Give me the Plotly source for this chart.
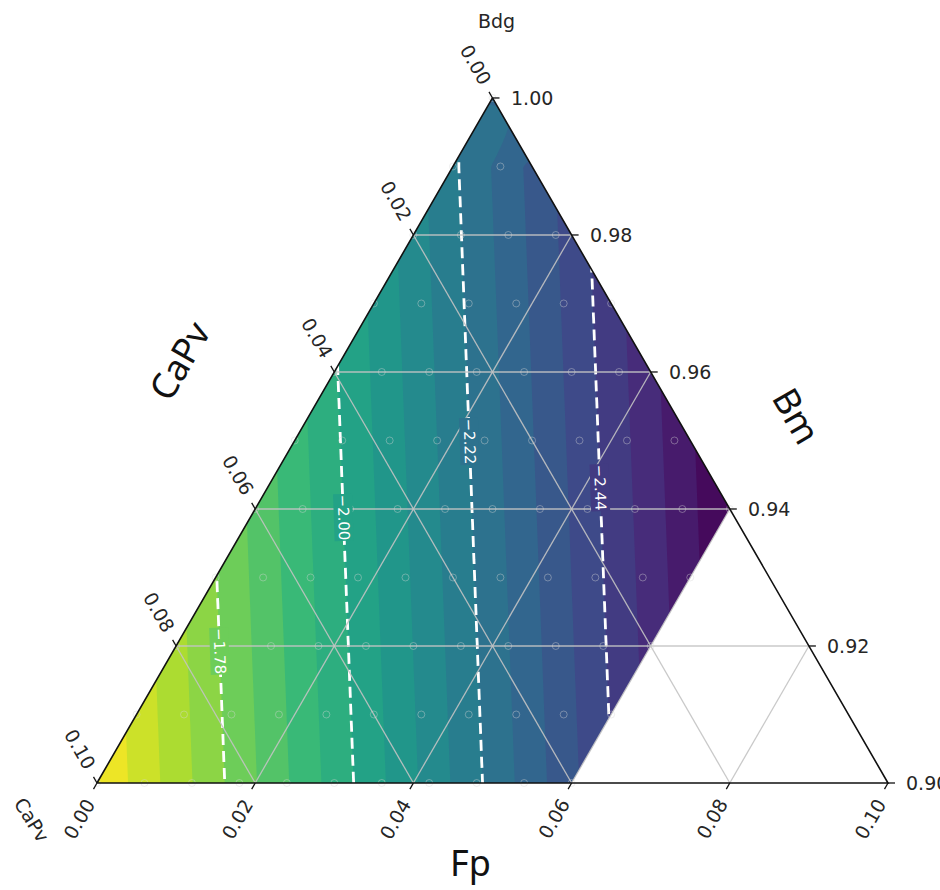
import numpy as np
import plotly.graph_objects as go
from plotly.colors import sample_colorscale

# ---------------- data ----------------
# sampled composition lattice: Fp steps along each Bm row (CaPv = 1 - Bm - Fp)
fp_levels = [0.000, 0.006, 0.012, 0.018, 0.024, 0.030, 0.036, 0.042, 0.048, 0.054, 0.060]
bm_levels = [0.90, 0.91, 0.92, 0.93, 0.94, 0.95, 0.96, 0.97, 0.98, 0.99, 1.00]

vals_bm090 = [-1.562, -1.643, -1.724, -1.805, -1.886, -1.967, -2.048, -2.129, -2.210, -2.291, -2.372]
vals_bm091 = [-1.634, -1.715, -1.796, -1.877, -1.958, -2.039, -2.120, -2.201, -2.282, -2.363, -2.444]
vals_bm092 = [-1.706, -1.787, -1.868, -1.949, -2.030, -2.111, -2.192, -2.273, -2.354, -2.435, -2.516]
vals_bm093 = [-1.778, -1.859, -1.940, -2.021, -2.102, -2.183, -2.264, -2.345, -2.426, -2.507, -2.588]
vals_bm094 = [-1.850, -1.931, -2.012, -2.093, -2.174, -2.255, -2.336, -2.417, -2.498, -2.579, -2.660]
vals_bm095 = [-1.922, -2.003, -2.084, -2.165, -2.246, -2.327, -2.408, -2.489, -2.570]
vals_bm096 = [-1.994, -2.075, -2.156, -2.237, -2.318, -2.399, -2.480]
vals_bm097 = [-2.066, -2.147, -2.228, -2.309, -2.390, -2.471]
vals_bm098 = [-2.138, -2.219, -2.300, -2.381]
vals_bm099 = [-2.210, -2.291]
vals_bm100 = [-2.282]
row_values = [vals_bm090, vals_bm091, vals_bm092, vals_bm093, vals_bm094, vals_bm095,
              vals_bm096, vals_bm097, vals_bm098, vals_bm099, vals_bm100]

fill_level_min = -2.66
fill_level_max = -1.56
n_fill_bands = 20
line_levels = [-2.44, -2.22, -2.00, -1.78]
line_label_bm = [0.9431, 0.9498, 0.9387, 0.9193]   # rows where the inline labels sit

comp_ticks = [0.00, 0.02, 0.04, 0.06, 0.08, 0.10]
bm_ticks = [0.90, 0.92, 0.94, 0.96, 0.98, 1.00]

# ---------------- geometry ----------------
SQ3 = np.sqrt(3) / 2
BM0 = bm_levels[0]
SPAN = 0.1
PX = 7910.0          # pixels per composition unit
W, H = 940, 890
X_RANGE = [-97 / PX, (W - 97) / PX]
Y_RANGE = [-(H - 783) / PX, 783 / PX]


def tern_xy(fp, bm):
    fp = np.asarray(fp, float)
    bm = np.asarray(bm, float)
    return fp + (bm - BM0) / 2, (bm - BM0) * SQ3


def px2data(px, py):
    return (px - 97) / PX, (783 - py) / PX


def row_eval(vals, F):
    v = np.asarray(vals, float)
    n = len(v)
    if n == 1:
        return np.full_like(F, v[0])
    fp = np.asarray(fp_levels[:n], float)
    out = np.interp(F, fp, v)
    s_lo = (v[1] - v[0]) / (fp[1] - fp[0])
    s_hi = (v[-1] - v[-2]) / (fp[-1] - fp[-2])
    out = np.where(F < fp[0], v[0] + (F - fp[0]) * s_lo, out)
    out = np.where(F > fp[-1], v[-1] + (F - fp[-1]) * s_hi, out)
    return out


def field(X, Y):
    X, Y = np.broadcast_arrays(np.asarray(X, float), np.asarray(Y, float))
    bm = BM0 + Y / SQ3
    fp = X - (bm - BM0) / 2
    step = bm_levels[1] - bm_levels[0]
    t = (bm - BM0) / step
    i0 = np.clip(np.floor(t), 0, len(bm_levels) - 2).astype(int)
    w = t - i0
    R = np.stack([row_eval(v, fp) for v in row_values])
    lo = np.take_along_axis(R, i0[None], 0)[0]
    hi = np.take_along_axis(R, (i0 + 1)[None], 0)[0]
    return (1 - w) * lo + w * hi


xg = np.arange(-0.003, 0.1031, 0.0004)
yg = np.arange(-0.003, 0.0896, 0.0004)
XG, YG = np.meshgrid(xg, yg)
ZG = np.round(field(XG, YG), 4)

# stepped viridis, one colour per band (mid-band sample, like matplotlib)
band_cols = sample_colorscale('Viridis', [(k + 0.5) / n_fill_bands for k in range(n_fill_bands)])
cscale = []
for k, c in enumerate(band_cols):
    a = max(0.0, (k - 0.5) / (n_fill_bands - 1))
    b = min(1.0, (k + 0.5) / (n_fill_bands - 1))
    cscale += [[a, c], [b, c]]
band = (fill_level_max - fill_level_min) / n_fill_bands


def band_color(v):
    k = int(np.clip(np.floor((v - fill_level_min) / band), 0, n_fill_bands - 1))
    return band_cols[k]


fig = go.Figure()
fig.add_trace(go.Contour(
    x=xg, y=yg, z=ZG, colorscale=cscale, showscale=False, autocontour=False,
    contours=dict(start=fill_level_min + band, end=fill_level_max - band, size=band,
                  coloring='fill', showlines=False),
    line=dict(width=0), hoverinfo='skip'))
fig.add_trace(go.Contour(
    x=xg, y=yg, z=ZG, showscale=False, autocontour=False,
    contours=dict(start=line_levels[0], end=line_levels[-1],
                  size=line_levels[1] - line_levels[0], coloring='none', showlabels=False),
    line=dict(color='white', width=2.8, dash='11px,6px'), hoverinfo='skip'))

# white masks outside the sampled region
xmin, xmax = X_RANGE
ymin, ymax = Y_RANGE
Tx, Ty = tern_xy(0.0, 1.0)
fp_max = fp_levels[-1]
P1x, P1y = tern_xy(fp_max, BM0)
P2x, P2y = tern_xy(fp_max, 1.0 - fp_max)
e = 0.002
masks = [
    [(xmin, ymin), (0, ymin), (0, 0), (Tx, Ty), (Tx + e, ymax), (xmin, ymax)],
    [(Tx - e, ymax), (xmax, ymax), (xmax, ymin), (P1x, ymin), (P1x, P1y), (P2x, P2y), (Tx, Ty)],
    [(-e, ymin), (P1x + e, ymin), (P1x + e, 0), (-e, 0)],
]
for m in masks:
    fig.add_trace(go.Scatter(x=[p[0] for p in m] + [m[0][0]], y=[p[1] for p in m] + [m[0][1]],
                             fill='toself', fillcolor='white', mode='lines',
                             line=dict(width=0, color='white'), hoverinfo='skip'))

# grid lines
gx, gy = [], []
for v in comp_ticks[1:-1]:
    for (f1, b1), (f2, b2) in [((v, BM0), (v, 1 - v)),            # constant Fp
                               ((0, 1 - v), (SPAN - v, BM0)),      # constant CaPv
                               ((0, BM0 + v), (SPAN - v, BM0 + v))]:  # constant Bm
        x1, y1 = tern_xy(f1, b1)
        x2, y2 = tern_xy(f2, b2)
        gx += [x1, x2, None]
        gy += [y1, y2, None]
fig.add_trace(go.Scatter(x=gx, y=gy, mode='lines', line=dict(color='rgba(195,195,195,0.9)', width=1.3),
                         hoverinfo='skip'))

# sample markers
mx, my = [], []
for bm, vals in zip(bm_levels, row_values):
    for j in range(len(vals)):
        x, y = tern_xy(fp_levels[j], bm)
        mx.append(float(x))
        my.append(float(y))
fig.add_trace(go.Scatter(x=mx, y=my, mode='markers',
                         marker=dict(symbol='circle-open', size=7, color='rgba(215,215,215,0.4)',
                                     line=dict(width=1)), hoverinfo='skip'))

# triangle frame
cx = [tern_xy(0, BM0)[0], tern_xy(SPAN, BM0)[0], Tx, tern_xy(0, BM0)[0]]
cy = [0, 0, Ty, 0]
fig.add_trace(go.Scatter(x=cx, y=cy, mode='lines', line=dict(color='#111111', width=1.6),
                         hoverinfo='skip'))

# tick marks
L = 7 / PX
tx, ty = [], []
ann = []
tfont = dict(family='DejaVu Sans', size=19, color='#262626')
for v in comp_ticks:
    # bottom: Fp
    x, y = tern_xy(v, BM0)
    tx += [x, x - 0.5 * L, None]
    ty += [y, y - SQ3 * L, None]
    ann.append(dict(x=float(x), y=float(y), text=f'{v:.2f}', showarrow=False, font=tfont,
                    textangle=-60, xshift=-18, yshift=-36))
    # left: CaPv
    x, y = tern_xy(0.0, 1.0 - v)
    tx += [x, x - 0.5 * L, None]
    ty += [y, y + SQ3 * L, None]
    ann.append(dict(x=float(x), y=float(y), text=f'{v:.2f}', showarrow=False, font=tfont,
                    textangle=60, xshift=-17, yshift=34))
for b in bm_ticks:
    x, y = tern_xy(1.0 - b, b)
    tx += [x, x + L, None]
    ty += [y, y, None]
    ann.append(dict(x=float(x), y=float(y), text=f'{b:.2f}', showarrow=False, font=tfont,
                    xanchor='left', xshift=16))
fig.add_trace(go.Scatter(x=tx, y=ty, mode='lines', line=dict(color='#111111', width=1.3),
                         hoverinfo='skip'))

# inline contour labels (line broken behind the label, as with clabel inline)
Xs = np.linspace(0, SPAN, 4001)
for lvl, bm in zip(line_levels, line_label_bm):
    Yl = (bm - BM0) * SQ3
    zs = field(Xs, np.full_like(Xs, Yl))
    xc = float(np.interp(lvl, zs[::-1], Xs[::-1]))
    ann.append(dict(x=xc, y=float(Yl), text=f'\u2212{abs(lvl):.2f}', showarrow=False,
                    font=dict(family='DejaVu Sans', size=15, color='white'), textangle=88,
                    bgcolor=band_color(lvl - band / 2), borderpad=0))

# axis & corner labels
big = dict(family='Noto Sans', size=36, color='#111111')
small = dict(family='DejaVu Sans', size=19, color='#262626')
for txt, (px, py), ang, f in [('CaPv', (179, 360), -60, big),
                              ('Bm', (797, 415), 60, big),
                              ('Fp', (470, 862), 0, big),
                              ('Bdg', (496, 21), 0, small),
                              ('CaPv', (32, 820), 58, small)]:
    x, y = px2data(px, py)
    ann.append(dict(x=x, y=y, text=txt, showarrow=False, font=f, textangle=ang))

fig.update_layout(
    width=W, height=H, margin=dict(l=0, r=0, t=0, b=0),
    paper_bgcolor='white', plot_bgcolor='white', showlegend=False, hovermode=False,
    xaxis=dict(range=X_RANGE, visible=False, fixedrange=True),
    yaxis=dict(range=Y_RANGE, visible=False, fixedrange=True),
    annotations=ann,
)
fig.write_html('out.html')
